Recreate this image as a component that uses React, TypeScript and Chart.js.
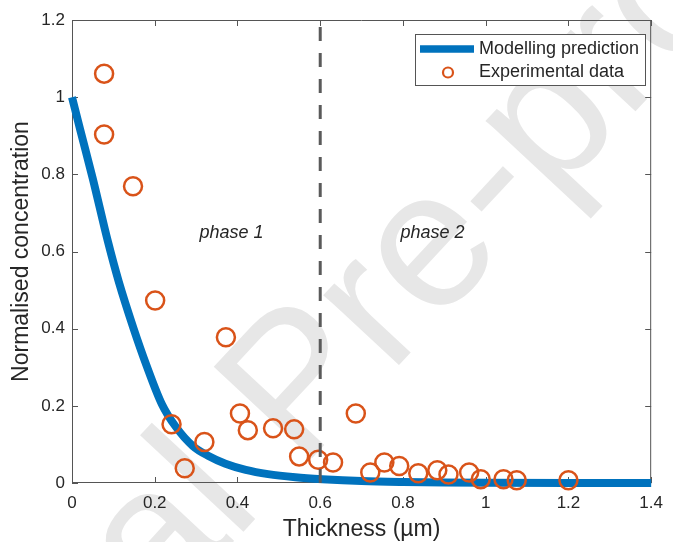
import React, { useEffect, useRef } from 'react';
import { Chart, registerables } from 'chart.js';

Chart.register(...registerables);

// ---- data ----
const xTicks = [0, 0.2, 0.4, 0.6, 0.8, 1, 1.2, 1.4];
const yTicks = [0, 0.2, 0.4, 0.6, 0.8, 1, 1.2];

const modelX = [0, 0.02, 0.05, 0.087, 0.113, 0.149, 0.18, 0.217, 0.25, 0.292, 0.33, 0.371, 0.42, 0.474, 0.54, 0.605, 0.7, 0.8, 0.9, 1.0, 1.2, 1.4];
const modelY = [1, 0.915, 0.79, 0.625, 0.522, 0.4, 0.305, 0.205, 0.147, 0.096, 0.07, 0.05, 0.034, 0.023, 0.015, 0.01, 0.005, 0.0025, 0.0012, 0.0006, 0.0001, 0];

const expX = [0.0776, 0.0776, 0.1475, 0.201, 0.2406, 0.2725, 0.32, 0.372, 0.406, 0.425, 0.486, 0.537, 0.549, 0.595, 0.631,
  0.686, 0.721, 0.755, 0.791, 0.837, 0.883, 0.91, 0.96, 0.988, 1.043, 1.075, 1.2];
const expY = [1.061, 0.903, 0.769, 0.473, 0.152, 0.038, 0.106, 0.378, 0.18, 0.137, 0.142, 0.139, 0.069, 0.06, 0.053,
  0.18, 0.027, 0.053, 0.044, 0.025, 0.033, 0.022, 0.027, 0.01, 0.01, 0.007, 0.007];

const boundaryX = [0.6, 0.6];
const boundaryY = [0, 1.2];

const phaseLabels = ['phase 1', 'phase 2'];
const phaseLabelX = [0.308, 0.794];
const phaseLabelY = [0.635, 0.635];

const seriesNames = ['Modelling prediction', 'Experimental data'];

const FONT = '"Liberation Sans", Arial, Helvetica, sans-serif';
const TEXT = '#262626';
const AXIS = '#555555';
const BLUE = '#0072BD';
const ORANGE = '#D95319';

const fmt = (v: number) => String(Math.round(v * 10) / 10);

const App = () => {
  const ref = useRef<HTMLCanvasElement>(null);

  useEffect(() => {
    const canvas = ref.current;
    if (!canvas) return;

    const framePlugin = {
      id: 'frame',
      beforeDraw(chart: any) {
        const ctx = chart.ctx;
        ctx.save();
        ctx.font = `195px ${FONT}`;
        ctx.fillStyle = '#e7e7e7';
        ctx.translate(301, 470);
        ctx.rotate((-47 * Math.PI) / 180);
        const pre = ctx.measureText('Journal ').width;
        ctx.textBaseline = 'alphabetic';
        ctx.fillText('Journal Pre-proof', -pre, 0);
        ctx.restore();
      },
      beforeDatasetsDraw(chart: any) {
        const { ctx, chartArea } = chart;
        const { left, right, top, bottom } = chartArea;
        const xs = chart.scales.x;
        const ys = chart.scales.y;
        ctx.save();
        ctx.strokeStyle = AXIS;
        ctx.lineWidth = 1;
        ctx.beginPath();
        ctx.rect(left + 0.5, top + 0.5, right - left - 1, bottom - top - 1);
        const tl = 6;
        xTicks.forEach((v) => {
          const px = Math.round(xs.getPixelForValue(v)) + 0.5;
          ctx.moveTo(px, bottom);
          ctx.lineTo(px, bottom - tl);
          ctx.moveTo(px, top);
          ctx.lineTo(px, top + tl);
        });
        yTicks.forEach((v) => {
          const py = Math.round(ys.getPixelForValue(v)) + 0.5;
          ctx.moveTo(left, py);
          ctx.lineTo(left + tl, py);
          ctx.moveTo(right, py);
          ctx.lineTo(right - tl, py);
        });
        ctx.stroke();
        ctx.restore();
      },
      afterDraw(chart: any) {
        const ctx = chart.ctx;
        const xs = chart.scales.x;
        const ys = chart.scales.y;
        ctx.save();
        // phase annotations
        ctx.fillStyle = TEXT;
        ctx.font = `italic 18px ${FONT}`;
        ctx.textAlign = 'left';
        ctx.textBaseline = 'alphabetic';
        phaseLabels.forEach((t, i) => {
          ctx.fillText(t, xs.getPixelForValue(phaseLabelX[i]), ys.getPixelForValue(phaseLabelY[i]));
        });
        // legend
        const bx = 415.5, by = 34.5, bw = 230, bh = 51;
        ctx.fillStyle = '#ffffff';
        ctx.fillRect(bx, by, bw, bh);
        ctx.strokeStyle = AXIS;
        ctx.lineWidth = 1;
        ctx.strokeRect(bx, by, bw, bh);
        ctx.strokeStyle = BLUE;
        ctx.lineWidth = 7.5;
        ctx.beginPath();
        ctx.moveTo(420, 49);
        ctx.lineTo(474, 49);
        ctx.stroke();
        ctx.strokeStyle = ORANGE;
        ctx.lineWidth = 2.2;
        ctx.beginPath();
        ctx.arc(448, 72.5, 5, 0, Math.PI * 2);
        ctx.stroke();
        ctx.fillStyle = TEXT;
        ctx.font = `18px ${FONT}`;
        ctx.textBaseline = 'middle';
        ctx.fillText(seriesNames[0], 479, 49.5);
        ctx.fillText(seriesNames[1], 479, 72.5);
        ctx.restore();
      },
    };

    const chart = new Chart(canvas, {
      type: 'scatter',
      data: {
        datasets: [
          {
            label: 'boundary',
            data: boundaryX.map((x, i) => ({ x, y: boundaryY[i] })),
            showLine: true,
            borderColor: '#5a5a5a',
            borderWidth: 3,
            borderDash: [14, 12],
            pointRadius: 0,
            order: 0,
          } as any,
          {
            label: seriesNames[1],
            data: expX.map((x, i) => ({ x, y: expY[i] })),
            showLine: false,
            pointRadius: 9,
            pointBorderWidth: 2.5,
            pointBorderColor: ORANGE,
            pointBackgroundColor: 'rgba(0,0,0,0)',
            borderColor: ORANGE,
            backgroundColor: 'rgba(0,0,0,0)',
            clip: false,
            order: 1,
          } as any,
          {
            label: seriesNames[0],
            data: modelX.map((x, i) => ({ x, y: modelY[i] })),
            showLine: true,
            borderColor: BLUE,
            borderWidth: 8,
            pointRadius: 0,
            cubicInterpolationMode: 'monotone',
            clip: false,
            order: 2,
          } as any,
        ],
      },
      options: {
        responsive: false,
        animation: false,
        devicePixelRatio: 1,
        events: [],
        layout: { padding: { top: 20, right: 14, left: 0, bottom: 0 } },
        plugins: {
          legend: { display: false },
          tooltip: { enabled: false },
        },
        scales: {
          x: {
            type: 'linear',
            min: 0,
            max: 1.4,
            afterBuildTicks: (s: any) => {
              s.ticks = xTicks.map((v) => ({ value: v }));
            },
            grid: { display: false, drawTicks: false, tickLength: 0 },
            border: { display: false },
            ticks: {
              font: { family: FONT, size: 17 },
              color: TEXT,
              padding: 10,
              maxRotation: 0,
              autoSkip: false,
              callback: (v: any) => fmt(Number(v)),
            },
            title: {
              display: true,
              text: 'Thickness (µm)',
              font: { family: FONT, size: 23 },
              color: TEXT,
              padding: { top: 0, bottom: -1 },
            },
            afterFit: (s: any) => {
              s.height = 59;
            },
          },
          y: {
            type: 'linear',
            min: 0,
            max: 1.2,
            afterBuildTicks: (s: any) => {
              s.ticks = yTicks.map((v) => ({ value: v }));
            },
            grid: { display: false, drawTicks: false, tickLength: 0 },
            border: { display: false },
            ticks: {
              font: { family: FONT, size: 17 },
              color: TEXT,
              padding: 7,
              autoSkip: false,
              callback: (v: any) => fmt(Number(v)),
            },
            title: {
              display: true,
              text: 'Normalised concentration',
              font: { family: FONT, size: 23 },
              color: TEXT,
              padding: { top: 8, bottom: 0 },
            },
            afterFit: (s: any) => {
              s.width = 72;
            },
          },
        },
      } as any,
      plugins: [framePlugin],
    });

    return () => chart.destroy();
  }, []);

  return (
    <div style={{ position: 'fixed', left: 0, top: 0, width: 673, height: 542, background: '#ffffff' }}>
      <canvas ref={ref} width={673} height={542} style={{ display: 'block', width: 673, height: 542 }} />
    </div>
  );
};

export default App;
